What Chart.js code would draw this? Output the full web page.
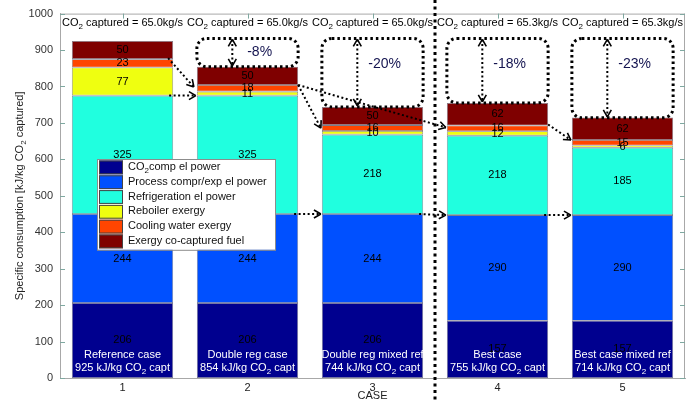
<!DOCTYPE html>
<html><head><meta charset="utf-8">
<script src="https://cdn.jsdelivr.net/npm/chart.js@4.4.1/dist/chart.umd.min.js"></script>
<style>html,body{margin:0;padding:0;background:#fff}#wrap{width:688px;height:403px;position:relative}</style>
</head><body><div id="wrap"><canvas id="c"></canvas></div>
<script>
// Specific consumption breakdown per case [kJ/kg CO2 captured]
const cases = ['1', '2', '3', '4', '5'];
const caseNames = ['Reference case', 'Double reg case', 'Double reg mixed ref', 'Best case', 'Best case mixed ref'];
const caseTotals = [925, 854, 744, 755, 714];
const co2Flow = ['65.0', '65.0', '65.0', '65.3', '65.3'];
const reductions = ['', '-8%', '-20%', '-18%', '-23%'];

const co2Comp = [206, 206, 206, 157, 157];
const processCompr = [244, 244, 244, 290, 290];
const refrigeration = [325, 325, 218, 218, 185];
const reboiler = [77, 11, 10, 12, 6];
const coolingWater = [23, 18, 16, 16, 15];
const coCaptured = [50, 50, 50, 62, 62];

const yTicks = [0, 100, 200, 300, 400, 500, 600, 700, 800, 900, 1000];

const FONT = '"Liberation Sans", Arial, sans-serif';

const series = [
  { parts: [['CO', 0], ['2', 1], ['comp el power', 0]], data: co2Comp, color: '#00008f' },
  { parts: [['Process compr/exp el power', 0]], data: processCompr, color: '#0050ff' },
  { parts: [['Refrigeration el power', 0]], data: refrigeration, color: '#20ffdf' },
  { parts: [['Reboiler exergy', 0]], data: reboiler, color: '#efff10' },
  { parts: [['Cooling water exergy', 0]], data: coolingWater, color: '#ff4500' },
  { parts: [['Exergy co-captured fuel', 0]], data: coCaptured, color: '#7f0000' }
];

// text with optional subscript pieces
function richWidth(ctx, parts, fs) {
  let w = 0;
  for (const [t, sub] of parts) {
    ctx.font = (sub ? Math.round(fs * 0.72) : fs) + 'px ' + FONT;
    w += ctx.measureText(t).width;
  }
  return w;
}
function drawRich(ctx, parts, x, y, align, fs, color) {
  const w = richWidth(ctx, parts, fs);
  let cx = align === 'center' ? x - w / 2 : (align === 'right' ? x - w : x);
  ctx.fillStyle = color;
  ctx.textAlign = 'left';
  ctx.textBaseline = 'middle';
  for (const [t, sub] of parts) {
    const f = sub ? Math.round(fs * 0.72) : fs;
    ctx.font = f + 'px ' + FONT;
    ctx.fillText(t, cx, sub ? y + fs * 0.38 : y);
    cx += ctx.measureText(t).width;
  }
}

function chevron(ctx, x, y, dx, dy) {
  const len = Math.hypot(dx, dy);
  const ux = dx / len, uy = dy / len;
  const L = 8, a = Math.PI / 6;
  ctx.save();
  ctx.setLineDash([]);
  ctx.lineWidth = 1.6;
  ctx.strokeStyle = '#000';
  ctx.beginPath();
  for (const s of [-1, 1]) {
    const c = Math.cos(a), sn = Math.sin(a) * s;
    const bx = -(ux * c - uy * sn), by = -(ux * sn + uy * c);
    ctx.moveTo(x + bx * L, y + by * L);
    ctx.lineTo(x, y);
  }
  ctx.stroke();
  ctx.restore();
}

function dottedArrow(ctx, x1, y1, x2, y2, both) {
  ctx.save();
  ctx.strokeStyle = '#000';
  ctx.lineWidth = 2;
  ctx.setLineDash([2, 2.5]);
  ctx.beginPath();
  ctx.moveTo(x1, y1);
  ctx.lineTo(x2, y2);
  ctx.stroke();
  ctx.restore();
  chevron(ctx, x2, y2, x2 - x1, y2 - y1);
  if (both) chevron(ctx, x1, y1, x1 - x2, y1 - y2);
}

function roundRectPath(ctx, x, y, w, h, r) {
  ctx.beginPath();
  ctx.moveTo(x + r, y);
  ctx.lineTo(x + w - r, y);
  ctx.arcTo(x + w, y, x + w, y + r, r);
  ctx.lineTo(x + w, y + h - r);
  ctx.arcTo(x + w, y + h, x + w - r, y + h, r);
  ctx.lineTo(x + r, y + h);
  ctx.arcTo(x, y + h, x, y + h - r, r);
  ctx.lineTo(x, y + r);
  ctx.arcTo(x, y, x + r, y, r);
  ctx.closePath();
}

const overlay = {
  id: 'overlay',
  afterDatasetsDraw(chart) {
    const ctx = chart.ctx;
    const xs = chart.scales.x, ys = chart.scales.y;
    const area = chart.chartArea;
    const bars = chart.getDatasetMeta(0).data;
    const left = i => bars[i].x - bars[i].width / 2;
    const right = i => bars[i].x + bars[i].width / 2;
    const cum = (i, k) => { let s = 0; for (let j = 0; j < k; j++) s += series[j].data[i]; return s; };
    const py = v => ys.getPixelForValue(v);

    ctx.save();
    // box frame (top and right) and inward ticks
    ctx.strokeStyle = '#a8a8a8';
    ctx.lineWidth = 1;
    ctx.beginPath();
    ctx.moveTo(area.left, area.top + 0.5); ctx.lineTo(area.right, area.top + 0.5);
    ctx.moveTo(area.right - 0.5, area.top); ctx.lineTo(area.right - 0.5, area.bottom);
    ctx.stroke();
    ctx.strokeStyle = '#7fa8a0';
    ctx.beginPath();
    for (const t of yTicks) {
      const y = Math.round(py(t)) + 0.5;
      ctx.moveTo(area.left, y); ctx.lineTo(area.left + 5, y);
      ctx.moveTo(area.right, y); ctx.lineTo(area.right - 5, y);
    }
    for (let i = 0; i < cases.length; i++) {
      const x = Math.round(xs.getPixelForValue(i)) + 0.5;
      ctx.moveTo(x, area.top); ctx.lineTo(x, area.top + 5);
    }
    ctx.stroke();

    // segment value labels
    for (let i = 0; i < cases.length; i++) {
      let base = 0;
      for (const s of series) {
        const v = s.data[i];
        drawRich(ctx, [[String(v), 0]], bars[i].x, py(base + v / 2), 'center', 11, '#000');
        base += v;
      }
    }
    // case names and totals
    for (let i = 0; i < cases.length; i++) {
      const y0 = py(0);
      drawRich(ctx, [[caseNames[i], 0]], bars[i].x, y0 - 23, 'center', 11, '#fff');
      drawRich(ctx, [[caseTotals[i] + ' kJ/kg CO', 0], ['2', 1], [' capt', 0]], bars[i].x, y0 - 10, 'center', 11, '#fff');
    }
    // captured CO2 flow above each bar
    for (let i = 0; i < cases.length; i++) {
      drawRich(ctx, [['CO', 0], ['2', 1], [' captured = ' + co2Flow[i] + 'kg/s', 0]], bars[i].x, area.top + 9, 'center', 11, '#000');
    }

    // reduction boxes relative to the reference case
    const refTop = 932;
    for (let i = 1; i < cases.length; i++) {
      const x0 = left(i), x1 = right(i);
      const yt = py(refTop), yb = py(caseTotals[i]);
      ctx.save();
      ctx.strokeStyle = '#000';
      ctx.lineWidth = 3;
      ctx.setLineDash([2.5, 3]);
      roundRectPath(ctx, x0, yt, x1 - x0, yb - yt, 10);
      ctx.stroke();
      ctx.restore();
      const ax = x0 + (x1 - x0) * 0.35;
      dottedArrow(ctx, ax, yt + 1, ax, yb - 1, true);
      const ty = Math.min((yt + yb) / 2, yt + 26);
      drawRich(ctx, [[reductions[i], 0]], x0 + (x1 - x0) * 0.62, ty, 'center', 14, '#141450');
    }

    // transition arrows between cases
    dottedArrow(ctx, right(0) - 4, py(cum(0, 3)), left(1) - 1, py(cum(1, 3)));
    dottedArrow(ctx, right(0) - 5, py(cum(0, 5)) - 1, left(1) - 3, py(cum(1, 5)) + 2);
    dottedArrow(ctx, right(1), py(cum(1, 5)), left(2) - 1, py(cum(2, 5)) + 3);
    dottedArrow(ctx, right(1), py(cum(1, 5)), left(3) - 1, py(cum(3, 5)) + 2);
    dottedArrow(ctx, right(3), py(cum(3, 5)) - 1, left(4) - 1, py(cum(4, 5)));
    for (const [a, b] of [[1, 2], [2, 3], [3, 4]]) {
      dottedArrow(ctx, right(a) - 4, py(cum(a, 2)), left(b) - 1, py(cum(b, 2)));
    }

    // legend
    const lx = 97, ly = 159, lw = 178, rowH = 14.8;
    ctx.fillStyle = '#fff';
    ctx.fillRect(lx, ly, lw, rowH * 6 + 2);
    ctx.strokeStyle = '#8c8c8c';
    ctx.lineWidth = 1;
    ctx.strokeRect(lx + 0.5, ly + 0.5, lw, rowH * 6 + 2);
    series.forEach((s, k) => {
      const ry = ly + 1.5 + k * rowH;
      ctx.fillStyle = s.color;
      ctx.fillRect(lx + 2, ry, 24, rowH - 1);
      ctx.strokeStyle = '#444';
      ctx.strokeRect(lx + 2.5, ry + 0.5, 23, rowH - 2);
      drawRich(ctx, s.parts, lx + 31, ry + rowH / 2 - 1, 'left', 11, '#111');
    });

    // axis titles
    drawRich(ctx, [['CASE', 0]], (area.left + area.right) / 2, 396, 'center', 11, '#222');
    ctx.save();
    ctx.translate(20, (area.top + area.bottom) / 2);
    ctx.rotate(-Math.PI / 2);
    drawRich(ctx, [['Specific consumption [kJ/kg CO', 0], ['2', 1], [' captured]', 0]], 0, 0, 'center', 11, '#222');
    ctx.restore();

    // separator between the two case groups
    const sx = (xs.getPixelForValue(2) + xs.getPixelForValue(3)) / 2;
    ctx.strokeStyle = '#000';
    ctx.lineWidth = 3;
    ctx.setLineDash([3, 3.5]);
    ctx.beginPath();
    ctx.moveTo(sx, 0);
    ctx.lineTo(sx, chart.height);
    ctx.stroke();
    ctx.restore();
  }
};

new Chart(document.getElementById('c'), {
  type: 'bar',
  data: {
    labels: cases,
    datasets: series.map(s => ({
      label: s.parts.map(p => p[0]).join(''),
      data: s.data,
      backgroundColor: s.color,
      borderColor: 'rgba(70,70,90,0.7)',
      borderWidth: 0.8,
      borderSkipped: false,
      barPercentage: 0.81,
      categoryPercentage: 1,
      stack: 'all'
    }))
  },
  options: {
    responsive: true,
    maintainAspectRatio: false,
    animation: false,
    layout: { padding: { left: 0, right: 3, top: 13, bottom: 0 } },
    plugins: { legend: { display: false }, tooltip: { enabled: false } },
    scales: {
      x: {
        stacked: true,
        grid: { display: false, drawTicks: false },
        border: { display: true, color: '#a8a8a8' },
        ticks: { font: { family: FONT, size: 11 }, color: '#222', padding: 3 },
        afterFit: s => { s.height = 25; }
      },
      y: {
        stacked: true,
        min: 0, max: 1000,
        afterBuildTicks: s => { s.ticks = yTicks.map(v => ({ value: v })); },
        grid: { display: false, drawTicks: false },
        border: { display: true, color: '#a8a8a8' },
        ticks: { font: { family: FONT, size: 11 }, color: '#333', padding: 7, callback: v => String(v) },
        afterFit: s => { s.width = 60; }
      }
    }
  },
  plugins: [overlay]
});
</script></body></html>
